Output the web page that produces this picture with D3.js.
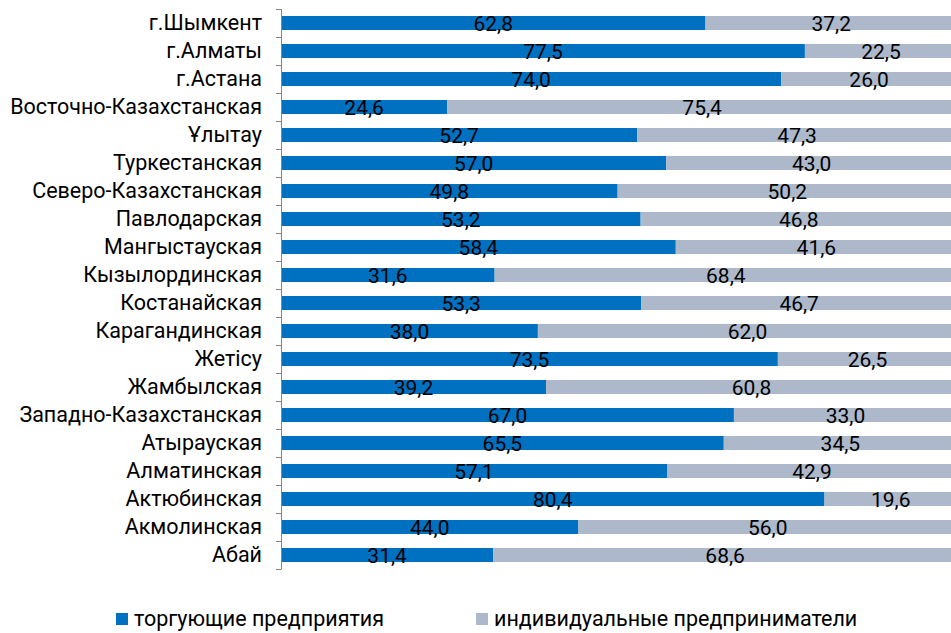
<!DOCTYPE html>
<meta charset="utf-8">
<script src="https://d3js.org/d3.v7.min.js"></script>
<style>
  body { margin: 0; background: #fff; }
  text { font-family: Roboto, "Liberation Sans", sans-serif; fill: #000; }
</style>
<div id="chart"></div>
<script>
// regions, top to bottom
const regions = ["г.Шымкент", "г.Алматы", "г.Астана", "Восточно-Казахстанская", "Ұлытау",
  "Туркестанская", "Северо-Казахстанская", "Павлодарская", "Мангыстауская", "Кызылординская",
  "Костанайская", "Карагандинская", "Жетісу", "Жамбылская", "Западно-Казахстанская",
  "Атырауская", "Алматинская", "Актюбинская", "Акмолинская", "Абай"];
const trade = [62.8, 77.5, 74.0, 24.6, 52.7, 57.0, 49.8, 53.2, 58.4, 31.6,
  53.3, 38.0, 73.5, 39.2, 67.0, 65.5, 57.1, 80.4, 44.0, 31.4];
const individual = [37.2, 22.5, 26.0, 75.4, 47.3, 43.0, 50.2, 46.8, 41.6, 68.4,
  46.7, 62.0, 26.5, 60.8, 33.0, 34.5, 42.9, 19.6, 56.0, 68.6];
const seriesNames = ["торгующие предприятия", "индивидуальные предприниматели"];
const colors = ["#0070C0", "#ADB9CA"];

const W = 951, H = 633;
const svg = d3.select("#chart").append("svg").attr("width", W).attr("height", H);

const x = d3.scaleLinear().domain([0, 100]).range([281, 957]);
const y = d3.scaleBand().domain(regions).range([9, 569]).paddingInner(0.5).paddingOuter(0.25);

const rows = regions.map((r, i) => ({ region: r, values: [trade[i], individual[i]] }));

const fmt = v => v.toFixed(1).replace(".", ",");

rows.forEach(row => {
  let acc = 0;
  row.values.forEach((v, k) => {
    svg.append("rect")
      .attr("x", x(acc))
      .attr("y", y(row.region))
      .attr("width", x(acc + v) - x(acc))
      .attr("height", y.bandwidth())
      .attr("fill", colors[k]);
    svg.append("text")
      .attr("x", x(acc + v / 2))
      .attr("y", y(row.region) + y.bandwidth() / 2 + 8)
      .attr("text-anchor", "middle")
      .style("font-size", "21px")
      .text(fmt(v));
    acc += v;
  });
});

// axis line with ticks between categories
const step = y.step();
const axis = svg.append("g");
axis.append("line").attr("x1", 281.5).attr("x2", 281.5).attr("y1", 9).attr("y2", 569)
  .attr("stroke", "#868686").attr("stroke-width", 1);
d3.range(regions.length + 1).forEach(i => {
  const yy = Math.round(9 + i * step) + 0.5;
  axis.append("line").attr("x1", 276).attr("x2", 281.5).attr("y1", yy).attr("y2", yy)
    .attr("stroke", "#868686");
});

svg.append("g").selectAll("text").data(regions).join("text")
  .attr("x", 262)
  .attr("y", d => y(d) + y.bandwidth() / 2 + 7)
  .attr("text-anchor", "end")
  .style("font-size", "21.5px")
  .text(d => d);

// legend
const legendX = [116, 476];
seriesNames.forEach((n, k) => {
  svg.append("rect").attr("x", legendX[k]).attr("y", 613).attr("width", 12).attr("height", 12)
    .attr("fill", colors[k]);
  svg.append("text").attr("x", legendX[k] + 18).attr("y", 626)
    .style("font-size", "21.5px").text(n);
});
</script>
